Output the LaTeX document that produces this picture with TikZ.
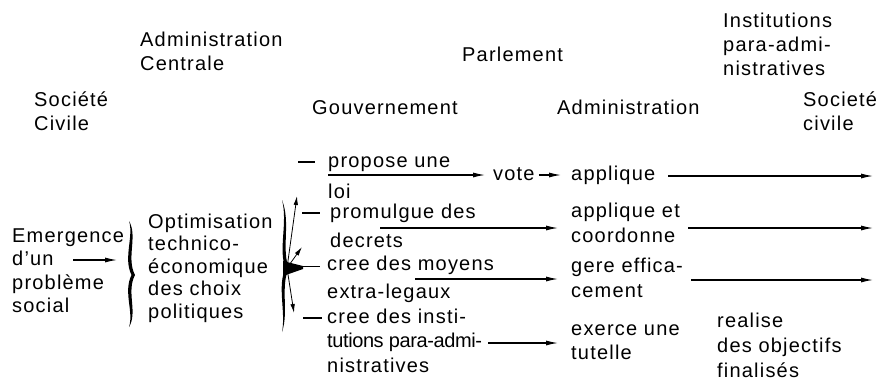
\documentclass[tikz,border=0pt]{standalone}
\usepackage{fontspec}
\setmainfont[LetterSpace=6]{Liberation Sans}
\usetikzlibrary{arrows.meta}
% multi-line label, first baseline at the node's base anchor
\newcommand\blk[2][24pt]{\fontsize{20}{#1}\selectfont\begin{tabular}[t]{@{}l@{}}#2\end{tabular}}
\begin{document}
\begin{tikzpicture}[x=1pt,y=-1pt,
  lbl/.style={anchor=base west, inner sep=0pt, font=\fontsize{20}{24}\selectfont},
  arr/.style={-{Latex[length=12pt,width=5pt]}, line width=1.1pt},
  thinarr/.style={-{Latex[length=9pt,width=4.5pt]}, line width=0.8pt},
  ln/.style={line width=1.1pt}]
\useasboundingbox[fill=white] (0,0) rectangle (876,384);

% column headings
\node[lbl] (sc1)  at (34,106)  {\blk{Société\\Civile}};
\node[lbl] (ac)   at (140,46)  {\blk{Administration\\Centrale}};
\node[lbl] (parl) at (462,61)  {\blk{Parlement}};
\node[lbl] (ipa)  at (723,27)  {\blk{Institutions\\para-admi-\\nistratives}};
\node[lbl] (gouv) at (312,114) {\blk{Gouvernement}};
\node[lbl] (adm)  at (557,114) {\blk{Administration}};
\node[lbl] (sc2)  at (803,106) {\blk{Societé\\civile}};

% left part
\node[lbl] (emer) at (12,242)  {\blk[23.5pt]{Emergence\\d'un\\problème\\social}};
\node[lbl] (opt)  at (148,228) {\blk[22.5pt]{Optimisation\\technico-\\économique\\des choix\\politiques}};
\coordinate (e1) at (73,260);
\coordinate (e2) at (117,260);
\draw[arr] (e1) -- (e2);

% first brace
\fill (129,221) .. controls (138,236) and (126,258) .. (135,275)
      .. controls (126,292) and (138,312) .. (129,327)
      .. controls (134,312) and (123,292) .. (131.5,275)
      .. controls (123,258) and (134,236) .. (129,221) -- cycle;

% second brace with its tip
\coordinate (b2) at (287,268);
\fill (282,200) .. controls (291,222) and (281,250) .. (289,268)
      .. controls (280,286) and (289,312) .. (282,332)
      .. controls (286,312) and (277,286) .. (285.5,268)
      .. controls (278,250) and (288,222) .. (282,200) -- cycle;
\coordinate (u1) at (297,196);
\coordinate (u2) at (302,247);
\coordinate (u3) at (294,313);
\draw[thinarr] (b2) -- (u1);
\draw[thinarr] (b2) -- (u2);
\draw[thinarr] (b2) -- (u3);
\fill (283,261) -- (303,266) -- (303,269) -- (283,276) -- cycle;

% Gouvernement actions
\node[lbl] (r1) at (328,167) {\blk[31pt]{propose une\\loi}};
\node[lbl] (r2) at (330,218) {\blk[29pt]{promulgue des\\decrets}};
\node[lbl] (r3) at (327,270) {\blk[28pt]{cree des moyens\\extra-legaux}};
\node[lbl] (r4) at (327,323) {\blk[24.5pt]{cree des insti-\\{\addfontfeatures{LetterSpace=-2}tutions para-admi-}\\nistratives}};
\coordinate (d1) at (298,162);
\coordinate (d2) at (302,213);
\coordinate (d3) at (300,266.5);
\coordinate (d4) at (303,318);
\draw[ln] (d1) -- ++(17,0);
\draw[ln] (d2) -- ++(18,0);
\draw[ln] (d3) -- ++(20,0);
\draw[ln] (d4) -- ++(19,0);

% Parlement and Administration
\node[lbl] (vote) at (493,180) {\blk{vote}};
\node[lbl] (ap1) at (571,180) {\blk{applique}};
\node[lbl] (ap2) at (571,217) {\blk[25pt]{applique et\\coordonne}};
\node[lbl] (ap3) at (571,272) {\blk[25pt]{gere effica-\\cement}};
\node[lbl] (ap4) at (571,335) {\blk[24pt]{exerce une\\tutelle}};
\node[lbl] (ip)  at (717,327) {\blk[25pt]{realise\\des objectifs\\finalisés}};

\coordinate (s1) at (328,175);
\coordinate (s2) at (380,228);
\coordinate (s3) at (415,279);
\coordinate (s4) at (488,343);
\draw[arr, shorten >=8pt] (s1) -- (s1 -| vote.west);
\draw[arr, shorten <=4pt, shorten >=10pt] (vote.east |- s1) -- (s1 -| ap1.west);
\draw[arr, shorten >=13pt] (s2) -- (s2 -| ap2.west);
\draw[arr, shorten >=13pt] (s3) -- (s3 -| ap3.west);
\draw[arr, shorten >=13pt] (s4) -- (s4 -| ap4.west);

% towards civil society
\coordinate (t1) at (873,176);
\coordinate (t2) at (873,228);
\coordinate (t3) at (873,280);
\draw[arr, shorten <=13pt] (ap1.east |- t1) -- (t1);
\draw[arr, shorten <=8pt] (ap2.east |- t2) -- (t2);
\draw[arr, shorten <=8pt] (ap3.east |- t3) -- (t3);
\end{tikzpicture}
\end{document}
